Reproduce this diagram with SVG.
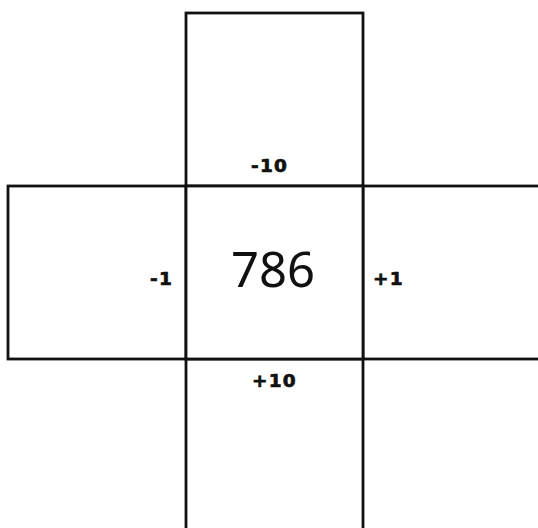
<svg xmlns="http://www.w3.org/2000/svg" width="538" height="528" viewBox="0 0 538 528">
  <style>
    .box { fill: #ffffff; stroke: #111111; stroke-width: 2.8; }
    .lbl { font-family: "DejaVu Sans", Verdana, sans-serif; font-weight: bold; font-size: 18.5px; letter-spacing: 1.2px; fill: #111111; stroke: #111111; stroke-width: 0.7px; }
    .num { font-family: "Noto Sans", "Open Sans", sans-serif; font-size: 49px; fill: #111111; text-anchor: middle; }
  </style>
  <rect width="538" height="528" fill="#ffffff"/>
  <g id="top"><rect class="box" x="186" y="13" width="177" height="173"/></g>
  <g id="left"><rect class="box" x="8" y="186" width="178" height="173"/></g>
  <g id="right"><rect class="box" x="363" y="186" width="190" height="173"/></g>
  <g id="bottom"><rect class="box" x="186" y="359" width="177" height="185"/></g>
  <g id="center">
    <rect class="box" x="186" y="186" width="177" height="173"/>
    <text class="num" x="273" y="287">786</text>
  </g>
  <g id="labels">
    <text class="lbl" x="251" y="172">-10</text>
    <text class="lbl" x="252" y="387">+10</text>
    <text class="lbl" x="150" y="285">-1</text>
    <text class="lbl" x="373" y="285">+1</text>
  </g>
</svg>
